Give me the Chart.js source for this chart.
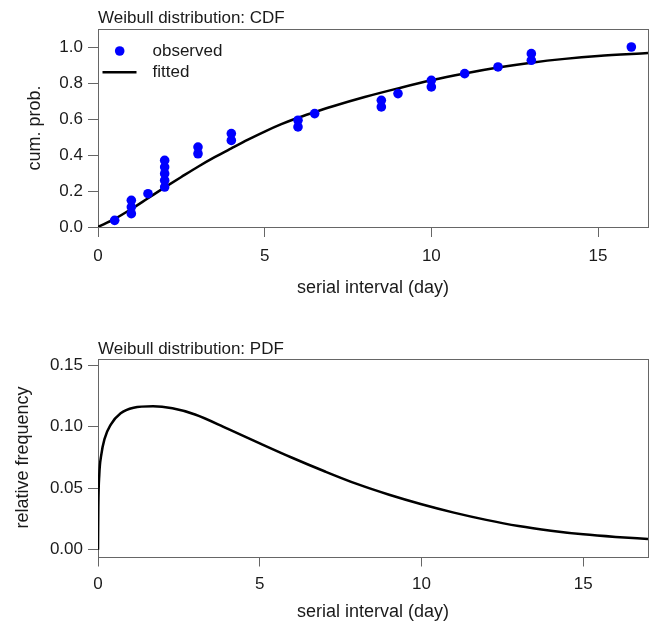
<!DOCTYPE html>
<html>
<head>
<meta charset="utf-8">
<title>Weibull distribution</title>
<script src="https://cdn.jsdelivr.net/npm/chart.js@4.4.1/dist/chart.umd.min.js"></script>
<style>
  body { margin: 0; background: #fff; }
  #graficaCDF { position: absolute; left: 0; top: 0; }
  #graficaPDF { position: absolute; left: 0; top: 320px; }
</style>
</head>
<body>
<canvas id="graficaCDF" width="656" height="320"></canvas>
<canvas id="graficaPDF" width="656" height="307"></canvas>
<script>
// Puntos observados (CDF empírica)
const diasObservados = [0.5, 1, 1, 1, 1.5, 2, 2, 2, 2, 2, 3, 3, 4, 4, 6, 6, 6.5, 8.5, 8.5, 9, 10, 10, 11, 12, 13, 13, 16];
const probObservada = [0.037, 0.074, 0.111, 0.148, 0.185, 0.222, 0.259, 0.296, 0.333, 0.370, 0.407, 0.444, 0.481, 0.519,
  0.556, 0.593, 0.630, 0.667, 0.704, 0.741, 0.778, 0.815, 0.852, 0.889, 0.926, 0.963, 1.0];

// Curva ajustada (CDF)
const diasCDF = [0, 0.5, 1, 1.5, 2, 2.5, 3, 3.5, 4, 4.5, 5, 5.5, 6, 6.5, 7, 8, 9, 10, 11, 12, 13, 14, 15, 16.5];
const probCDF = [0, 0.045, 0.1, 0.16, 0.22, 0.278, 0.335, 0.388, 0.437, 0.485, 0.53, 0.571, 0.607, 0.638, 0.668,
  0.722, 0.77, 0.815, 0.853, 0.886, 0.913, 0.934, 0.95, 0.966];

// Densidad (PDF)
const diasPDF = [0, 0.01, 0.04, 0.1, 0.2, 0.4, 0.7, 1.1, 1.7, 2.3, 3, 4, 5, 6, 7, 8, 9, 10, 11, 12, 13, 14, 15, 16, 17];
const densidadPDF = [0, 0.035, 0.061, 0.077, 0.09, 0.102, 0.111, 0.1155, 0.1167, 0.115, 0.11, 0.0985, 0.0865, 0.0748,
  0.0638, 0.0535, 0.0447, 0.037, 0.0302, 0.0243, 0.0193, 0.0155, 0.0125, 0.0104, 0.0088];

// Marcas de los ejes
const ticksDias = [0, 5, 10, 15];
const ticksCDF = [0, 0.2, 0.4, 0.6, 0.8, 1.0];
const ticksPDF = [0, 0.05, 0.10, 0.15];

const fuente = "'Liberation Sans', Arial, sans-serif";
const colorTexto = '#1a1a1a';
const colorEje = '#666';

function aPuntos(xs, ys) {
  return xs.map((x, i) => ({ x: x, y: ys[i] }));
}

// Caja alrededor del área y título alineado a la izquierda
const marcoYTitulo = {
  id: 'marcoYTitulo',
  beforeDatasetsDraw(chart, args, opts) {
    const a = chart.chartArea;
    const ctx = chart.ctx;
    ctx.save();
    ctx.strokeStyle = colorEje;
    ctx.lineWidth = 1;
    ctx.strokeRect(Math.round(a.left) + 0.5, Math.round(a.top) + 0.5,
      Math.round(a.right - a.left), Math.round(a.bottom - a.top));
    ctx.fillStyle = colorTexto;
    ctx.font = '17px ' + fuente;
    ctx.textAlign = 'left';
    ctx.textBaseline = 'middle';
    ctx.fillText(opts.texto, a.left, a.top - opts.separacion);
    ctx.restore();
  }
};

// Leyenda dentro del área (arriba a la izquierda)
const leyendaCDF = {
  id: 'leyendaCDF',
  afterDatasetsDraw(chart) {
    const a = chart.chartArea;
    const ctx = chart.ctx;
    const ds = chart.data.datasets;
    ctx.save();
    ctx.fillStyle = ds[0].backgroundColor;
    ctx.beginPath();
    ctx.arc(a.left + 21.7, a.top + 22, 4.8, 0, 2 * Math.PI);
    ctx.fill();
    ctx.strokeStyle = ds[1].borderColor;
    ctx.lineWidth = 2.5;
    ctx.beginPath();
    ctx.moveTo(a.left + 4.5, a.top + 43.3);
    ctx.lineTo(a.left + 38.5, a.top + 43.3);
    ctx.stroke();
    ctx.fillStyle = colorTexto;
    ctx.font = '17px ' + fuente;
    ctx.textAlign = 'left';
    ctx.textBaseline = 'middle';
    ctx.fillText(ds[0].label, a.left + 54.5, a.top + 22);
    ctx.fillText(ds[1].label, a.left + 54.5, a.top + 43.3);
    ctx.restore();
  }
};

function ejeX(maximo, alto, padTicks, padTitulo) {
  return {
    type: 'linear',
    min: 0,
    max: maximo,
    afterBuildTicks: s => { s.ticks = ticksDias.map(v => ({ value: v })); },
    afterFit: s => { s.height = alto; },
    grid: { drawOnChartArea: false, drawTicks: true, tickLength: 10, tickColor: colorEje },
    border: { display: false },
    ticks: { padding: padTicks, maxRotation: 0, color: colorTexto, font: { family: fuente, size: 17 } },
    title: {
      display: true, text: 'serial interval (day)', color: colorTexto,
      font: { family: fuente, size: 18 }, padding: { top: 0, bottom: padTitulo }
    }
  };
}

function ejeY(minimo, maximo, marcas, decimales, titulo, padTitulo) {
  return {
    type: 'linear',
    min: minimo,
    max: maximo,
    afterBuildTicks: s => { s.ticks = marcas.map(v => ({ value: v })); },
    afterFit: s => { s.width = 98; },
    grid: { drawOnChartArea: false, drawTicks: true, tickLength: 10, tickColor: colorEje },
    border: { display: false },
    ticks: {
      padding: 5, color: colorTexto, font: { family: fuente, size: 17 },
      callback: v => Number(v).toFixed(decimales)
    },
    title: {
      display: true, text: titulo, color: colorTexto,
      font: { family: fuente, size: 18 }, padding: { top: padTitulo, bottom: 0 }
    }
  };
}

new Chart(document.getElementById('graficaCDF'), {
  type: 'scatter',
  data: {
    datasets: [
      {
        label: 'observed',
        data: aPuntos(diasObservados, probObservada),
        backgroundColor: '#0000ff',
        borderColor: '#0000ff',
        pointRadius: 4.8,
        pointBorderWidth: 0
      },
      {
        label: 'fitted',
        data: aPuntos(diasCDF, probCDF),
        showLine: true,
        borderColor: '#000',
        borderWidth: 2.5,
        pointRadius: 0,
        cubicInterpolationMode: 'monotone'
      }
    ]
  },
  options: {
    responsive: false,
    animation: false,
    events: [],
    layout: { padding: { top: 29, right: 8, bottom: 0, left: 0 } },
    plugins: {
      legend: { display: false },
      tooltip: { enabled: false },
      marcoYTitulo: { texto: 'Weibull distribution: CDF', separacion: 11 }
    },
    scales: {
      x: ejeX(16.5, 93, 9, 21),
      y: ejeY(0, 1.1, ticksCDF, 1, 'cum. prob.', 24)
    }
  },
  plugins: [marcoYTitulo, leyendaCDF]
});

new Chart(document.getElementById('graficaPDF'), {
  type: 'scatter',
  data: {
    datasets: [
      {
        label: 'PDF',
        data: aPuntos(diasPDF, densidadPDF),
        showLine: true,
        borderColor: '#000',
        borderWidth: 2.5,
        pointRadius: 0,
        cubicInterpolationMode: 'monotone'
      }
    ]
  },
  options: {
    responsive: false,
    animation: false,
    events: [],
    layout: { padding: { top: 38.5, right: 8, bottom: 0, left: 0 } },
    plugins: {
      legend: { display: false },
      tooltip: { enabled: false },
      marcoYTitulo: { texto: 'Weibull distribution: PDF', separacion: 9.5 }
    },
    scales: {
      x: ejeX(17, 70.5, 8, 4),
      y: ejeY(-0.0055, 0.1555, ticksPDF, 2, 'relative frequency', 12)
    }
  },
  plugins: [marcoYTitulo]
});
</script>
</body>
</html>
